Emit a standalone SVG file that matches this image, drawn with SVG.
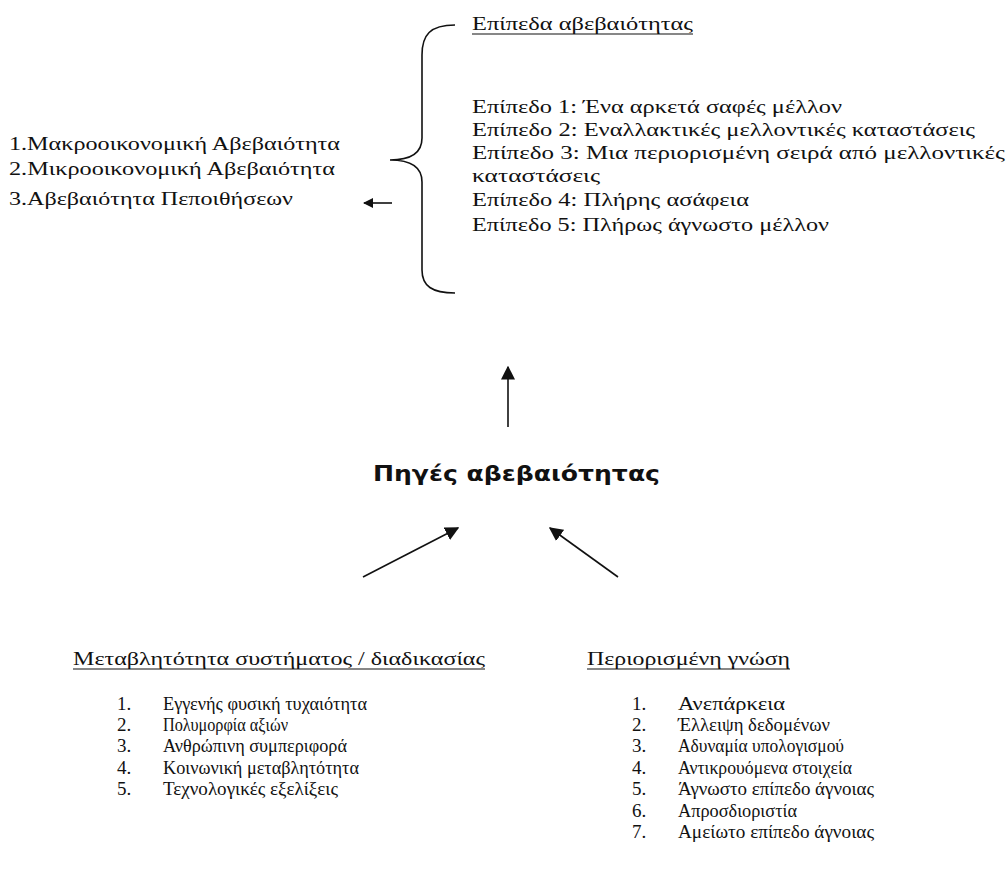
<svg xmlns="http://www.w3.org/2000/svg" width="1007" height="895" viewBox="0 0 1007 895">
<defs>
<style>
.t{font-family:"Liberation Serif","Times New Roman",serif;font-size:19px;fill:#111}
.tb{font-family:"Liberation Serif","Times New Roman",serif;font-size:19px;fill:#111}
.h{font-family:"DejaVu Sans",Verdana,sans-serif;font-size:22px;font-weight:bold;fill:#111}
.ln{stroke:#111;stroke-width:1.6;fill:none}
.ul{stroke:#111;stroke-width:1.2}
</style>
<marker id="ah" viewBox="0 0 10 10" refX="9" refY="5" markerWidth="10" markerHeight="10" markerUnits="userSpaceOnUse" orient="auto">
<path d="M0,0 L10,5 L0,10 z" fill="#111"/>
</marker>
<marker id="ahs" viewBox="0 0 10 10" refX="9" refY="5" markerWidth="14" markerHeight="14" markerUnits="userSpaceOnUse" orient="auto">
<path d="M0,0 L10,5 L0,10 z" fill="#111"/>
</marker>
</defs>
<rect width="1007" height="895" fill="#fff"/>

<g id="uncertainty-types">
<text class="tb" x="9" y="150" textLength="331" lengthAdjust="spacingAndGlyphs">1.Μακροοικονομική Αβεβαιότητα</text>
<text class="tb" x="9" y="175" textLength="326" lengthAdjust="spacingAndGlyphs">2.Μικροοικονομική Αβεβαιότητα</text>
<text class="tb" x="9" y="205" textLength="284" lengthAdjust="spacingAndGlyphs">3.Αβεβαιότητα Πεποιθήσεων</text>
</g>

<g id="levels">
<path class="ln" d="M455,25 C430,25 422,35 422,55 L422,138 C422,153 410,160 390,160 C410,160 422,167 422,182 L422,270 C422,286 432,293 455,293"/>
<text class="tb" x="472" y="30" textLength="221" lengthAdjust="spacingAndGlyphs">Επίπεδα αβεβαιότητας</text>
<line class="ul" x1="472" y1="34" x2="693" y2="34"/>
<text class="tb" x="472" y="113" textLength="370" lengthAdjust="spacingAndGlyphs">Επίπεδο 1: Ένα αρκετά σαφές μέλλον</text>
<text class="tb" x="472" y="136" textLength="503" lengthAdjust="spacingAndGlyphs">Επίπεδο 2: Εναλλακτικές μελλοντικές καταστάσεις</text>
<text class="tb" x="472" y="159" textLength="533" lengthAdjust="spacingAndGlyphs">Επίπεδο 3: Μια περιορισμένη σειρά από μελλοντικές</text>
<text class="tb" x="472" y="182" textLength="128" lengthAdjust="spacingAndGlyphs">καταστάσεις</text>
<text class="tb" x="472" y="206" textLength="277" lengthAdjust="spacingAndGlyphs">Επίπεδο 4: Πλήρης ασάφεια</text>
<text class="tb" x="472" y="231" textLength="357" lengthAdjust="spacingAndGlyphs">Επίπεδο 5: Πλήρως άγνωστο μέλλον</text>
</g>

<g id="sources">
<text class="h" x="373" y="481" textLength="287" lengthAdjust="spacingAndGlyphs">Πηγές αβεβαιότητας</text>
</g>

<g id="variability">
<text class="tb" x="73" y="665" textLength="412" lengthAdjust="spacingAndGlyphs">Μεταβλητότητα συστήματος / διαδικασίας</text>
<line class="ul" x1="73" y1="669" x2="485" y2="669"/>
<text class="t" x="117" y="710">1.</text><text class="t" x="163" y="710" textLength="204" lengthAdjust="spacingAndGlyphs">Εγγενής φυσική τυχαιότητα</text>
<text class="t" x="117" y="731">2.</text><text class="t" x="163" y="731" textLength="125" lengthAdjust="spacingAndGlyphs">Πολυμορφία αξιών</text>
<text class="t" x="117" y="752">3.</text><text class="t" x="163" y="752" textLength="184" lengthAdjust="spacingAndGlyphs">Ανθρώπινη συμπεριφορά</text>
<text class="t" x="117" y="774">4.</text><text class="t" x="163" y="774" textLength="196" lengthAdjust="spacingAndGlyphs">Κοινωνική μεταβλητότητα</text>
<text class="t" x="117" y="795">5.</text><text class="t" x="163" y="795" textLength="175" lengthAdjust="spacingAndGlyphs">Τεχνολογικές εξελίξεις</text>
</g>

<g id="limited-knowledge">
<text class="tb" x="587" y="665" textLength="203" lengthAdjust="spacingAndGlyphs">Περιορισμένη γνώση</text>
<line class="ul" x1="587" y1="669" x2="790" y2="669"/>
<text class="t" x="632" y="710">1.</text><text class="t" x="678" y="710" textLength="107" lengthAdjust="spacingAndGlyphs">Ανεπάρκεια</text>
<text class="t" x="632" y="731">2.</text><text class="t" x="678" y="731" textLength="152" lengthAdjust="spacingAndGlyphs">Έλλειψη δεδομένων</text>
<text class="t" x="632" y="752">3.</text><text class="t" x="678" y="752" textLength="166" lengthAdjust="spacingAndGlyphs">Αδυναμία υπολογισμού</text>
<text class="t" x="632" y="774">4.</text><text class="t" x="678" y="774" textLength="174" lengthAdjust="spacingAndGlyphs">Αντικρουόμενα στοιχεία</text>
<text class="t" x="632" y="795">5.</text><text class="t" x="678" y="795" textLength="196" lengthAdjust="spacingAndGlyphs">Άγνωστο επίπεδο άγνοιας</text>
<text class="t" x="632" y="817">6.</text><text class="t" x="678" y="817" textLength="119" lengthAdjust="spacingAndGlyphs">Απροσδιοριστία</text>
<text class="t" x="632" y="838">7.</text><text class="t" x="678" y="838" textLength="196" lengthAdjust="spacingAndGlyphs">Αμείωτο επίπεδο άγνοιας</text>
</g>

<g id="connectors">
<line class="ln" x1="392" y1="203" x2="364" y2="203" marker-end="url(#ah)"/>
<line class="ln" x1="508" y1="427" x2="508" y2="367" marker-end="url(#ahs)"/>
<line class="ln" x1="363" y1="577" x2="458" y2="528" marker-end="url(#ahs)"/>
<line class="ln" x1="618" y1="577" x2="550" y2="528" marker-end="url(#ahs)"/>
</g>
</svg>
